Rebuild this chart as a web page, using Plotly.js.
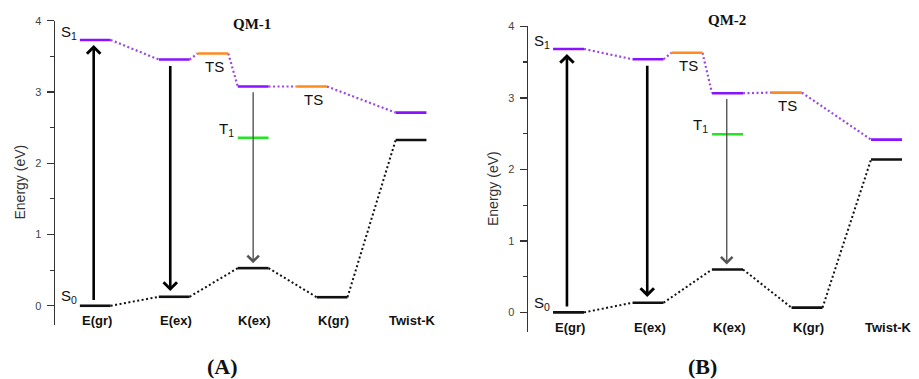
<!DOCTYPE html>
<html>
<head>
<meta charset="utf-8">
<script src="https://cdn.plot.ly/plotly-3.0.1.min.js"></script>
<style>html,body{margin:0;padding:0;background:#fff;}#chart{width:919px;height:379px;}</style>
</head>
<body>
<div id="chart"></div>
<script>
// ---------- data ----------
const categories = ['E(gr)', 'E(ex)', 'K(ex)', 'K(gr)', 'Twist-K'];
const s1States = ['E(gr)', 'E(ex)', 'TS', 'K(ex)', 'TS', 'Twist-K'];
const qm1S1 = [3.73, 3.455, 3.54, 3.077, 3.077, 2.71];
const qm1S0 = [0.00, 0.126, 0.528, 0.12, 2.325];
const qm1T1 = 2.357;
const qm2S1 = [3.683, 3.539, 3.63, 3.064, 3.073, 2.416];
const qm2S0 = [0.00, 0.135, 0.60, 0.066, 2.137];
const qm2T1 = 2.49;
const yTicks = [0, 1, 2, 3, 4];
const yTickText = ['0', '1', '2', '3', '4'];
const panelTitles = ['QM-1', 'QM-2'];
const panelLabels = ['(A)', '(B)'];
const yTitle = 'Energy (eV)';

// ---------- layout helpers (positions / styles) ----------
const s1Pos = [0, 1, 1.49, 2, 2.74, 4];
const s0Pos = [0, 1, 2, 3, 4];
const hw = 0.195;
const PURPLE = '#8a12ff', PURPLE_DOT = '#9a48e0', ORANGE = '#ff8a1e', GREEN = '#22e622', BLACK = '#111';
const FONT = 'Liberation Sans, Arial, sans-serif';
const SERIF = 'Liberation Serif, Times New Roman, serif';

const panels = [
  {s1: qm1S1, s0: qm1S0, t1: qm1T1, xa: 'x', ya: 'y', arrowX: [-0.02, 0.95, 2.0],
   title: panelTitles[0], label: panelLabels[0], titleX: 252/919, titleY: 1 - 24/379,
   labelX: 222/919, yTitleX: 19/919, yTitleY: 1-182.5/379},
  {s1: qm2S1, s0: qm2S0, t1: qm2T1, xa: 'x2', ya: 'y2', arrowX: [-0.02, 0.99, 1.99],
   title: panelTitles[1], label: panelLabels[1], titleX: 726.7/919, titleY: 1 - 20/379,
   labelX: 702.7/919, yTitleX: 492.5/919, yTitleY: 1-188.5/379}
];

const traces = [];
const annotations = [];

function segs(pos, vals) {
  const x = [], y = [];
  pos.forEach((p, i) => { x.push(p - hw, p + hw, null); y.push(vals[i], vals[i], null); });
  return {x, y};
}
function connectors(pos, vals) {
  const x = [], y = [];
  for (let i = 0; i < pos.length - 1; i++) {
    x.push(pos[i] + hw, pos[i + 1] - hw, null);
    y.push(vals[i], vals[i + 1], null);
  }
  return {x, y};
}

panels.forEach(P => {
  // dotted connectors
  const c1 = connectors(s1Pos, P.s1);
  traces.push({x: c1.x, y: c1.y, xaxis: P.xa, yaxis: P.ya, mode: 'lines', hoverinfo: 'skip',
    line: {color: PURPLE_DOT, width: 2.2, dash: '2px,2.5px'}});
  const c0 = connectors(s0Pos, P.s0);
  traces.push({x: c0.x, y: c0.y, xaxis: P.xa, yaxis: P.ya, mode: 'lines', hoverinfo: 'skip',
    line: {color: BLACK, width: 2, dash: '2px,2.5px'}});

  // S1 levels (purple) and TS levels (orange)
  const purpleIdx = s1States.map((s, i) => s === 'TS' ? -1 : i).filter(i => i >= 0);
  const tsIdx = s1States.map((s, i) => s === 'TS' ? i : -1).filter(i => i >= 0);
  const sp = segs(purpleIdx.map(i => s1Pos[i]), purpleIdx.map(i => P.s1[i]));
  traces.push({x: sp.x, y: sp.y, xaxis: P.xa, yaxis: P.ya, mode: 'lines', hoverinfo: 'skip',
    line: {color: PURPLE, width: 2.6}});
  const st = segs(tsIdx.map(i => s1Pos[i]), tsIdx.map(i => P.s1[i]));
  traces.push({x: st.x, y: st.y, xaxis: P.xa, yaxis: P.ya, mode: 'lines', hoverinfo: 'skip',
    line: {color: ORANGE, width: 2.6}});
  // S0 levels
  const s0 = segs(s0Pos, P.s0);
  traces.push({x: s0.x, y: s0.y, xaxis: P.xa, yaxis: P.ya, mode: 'lines', hoverinfo: 'skip',
    line: {color: BLACK, width: 2.6}});
  // T1 level at K(ex)
  const kx = s0Pos[categories.indexOf('K(ex)')];
  const t1 = segs([kx], [P.t1]);
  traces.push({x: t1.x, y: t1.y, xaxis: P.xa, yaxis: P.ya, mode: 'lines', hoverinfo: 'skip',
    line: {color: GREEN, width: 2.4}});

  // arrows
  const iE = categories.indexOf('E(gr)'), iEx = categories.indexOf('E(ex)'), iK = categories.indexOf('K(ex)');
  const s1E = P.s1[s1States.indexOf('E(gr)')], s1Ex = P.s1[s1States.indexOf('E(ex)')], s1K = P.s1[s1States.indexOf('K(ex)')];
  const arrows = [
    {x: P.arrowX[0], from: P.s0[iE] + 0.06, to: s1E - 0.07, w: 2.6, c: '#000', size: 1.0},
    {x: P.arrowX[1], from: s1Ex - 0.07, to: P.s0[iEx] + 0.08, w: 2.6, c: '#000', size: 1.0},
    {x: P.arrowX[2], from: s1K - 0.06, to: P.s0[iK] + 0.07, w: 1.4, c: '#555', size: 1.6}
  ];
  arrows.forEach(a => annotations.push({xref: P.xa, yref: P.ya, axref: P.xa, ayref: P.ya,
    x: a.x, y: a.to, ax: a.x, ay: a.from, text: '', showarrow: true, arrowhead: 4,
    arrowwidth: a.w, arrowsize: a.size, arrowcolor: a.c, standoff: 0, startstandoff: 0}));

  // state labels
  const lab = (x, y, text, xanchor, size) => annotations.push({xref: P.xa, yref: P.ya,
    x, y, text, showarrow: false, xanchor: xanchor || 'center', yanchor: 'middle',
    font: {family: FONT, size: size || 15, color: '#111'}});
  lab(-0.205, s1E + 0.1, 'S<sub>1</sub>', 'right');
  lab(-0.205, P.s0[iE] + 0.13, 'S<sub>0</sub>', 'right');
  tsIdx.forEach(i => lab(s1Pos[i] + 0.02, P.s1[i] - 0.18, 'TS'));
  lab(kx - 0.22, P.t1 + 0.12, 'T<sub>1</sub>', 'right');
  categories.forEach((c, i) => lab(s0Pos[i] + 0.02, -0.205, '<b>' + c + '</b>', 'center', 13));

  annotations.push({xref: 'paper', yref: 'paper', x: P.titleX, y: P.titleY, text: '<b>' + P.title + '</b>',
    showarrow: false, xanchor: 'center', yanchor: 'middle', font: {family: SERIF, size: 15, color: '#111'}});
  annotations.push({xref: 'paper', yref: 'paper', x: P.labelX, y: 1 - 366/379, text: '<b>' + P.label + '</b>',
    showarrow: false, xanchor: 'center', yanchor: 'middle', font: {family: SERIF, size: 22, color: '#111'}});
  annotations.push({xref: 'paper', yref: 'paper', x: P.yTitleX, y: P.yTitleY, text: yTitle, textangle: -90,
    showarrow: false, xanchor: 'center', yanchor: 'middle', font: {family: FONT, size: 14, color: '#333'}});
});

function yaxisDef(domain, anchor) {
  return {domain, anchor, range: [-0.27, 4.0], tickvals: yTicks, ticktext: yTickText,
    showline: true, linecolor: '#333', linewidth: 1.5, ticks: 'outside', ticklen: 7, tickwidth: 1.4,
    tickcolor: '#333', tickfont: {family: FONT, size: 11, color: '#444'}, ticklabelstandoff: 3,
    minor: {tickvals: [0.5, 1.5, 2.5, 3.5], ticks: 'outside', ticklen: 4, tickwidth: 1.2, tickcolor: '#333', showgrid: false},
    showgrid: false, zeroline: false, fixedrange: true};
}
function xaxisDef(domain, anchor) {
  return {domain, anchor, range: [-0.51, 4.24], showline: false, showticklabels: false, ticks: '',
    showgrid: false, zeroline: false, fixedrange: true};
}

const layout = {
  width: 919, height: 379, margin: {l: 0, r: 0, t: 0, b: 0}, autosize: false,
  paper_bgcolor: '#fff', plot_bgcolor: 'rgba(0,0,0,0)', showlegend: false,
  xaxis: xaxisDef([55/919, 430/919], 'y'),
  yaxis: yaxisDef([1 - 325/379, 1 - 20.7/379], 'x'),
  xaxis2: xaxisDef([528/919, 905.6/919], 'y2'),
  yaxis2: yaxisDef([1 - 331.7/379, 1 - 26.3/379], 'x2'),
  annotations
};

Plotly.newPlot('chart', traces, layout, {displayModeBar: false, staticPlot: true});
</script>
</body>
</html>
